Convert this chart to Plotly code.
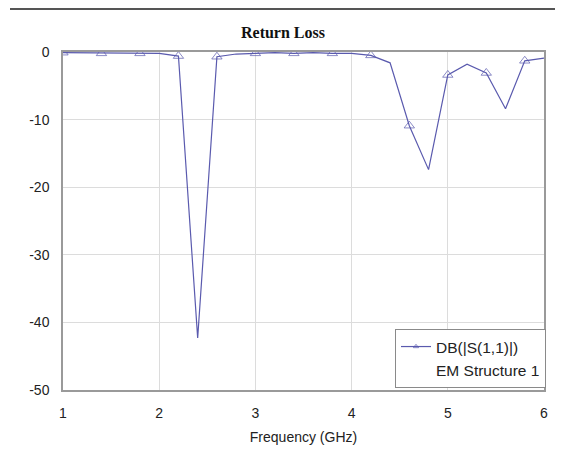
import plotly.graph_objects as go

freq_ghz = [1.0, 1.2, 1.4, 1.6, 1.8, 2.0, 2.2, 2.4, 2.6, 2.8, 3.0, 3.2, 3.4,
            3.6, 3.8, 4.0, 4.2, 4.4, 4.6, 4.8, 5.0, 5.2, 5.4, 5.6, 5.8, 6.0]
s11_db = [-0.1, -0.1, -0.2, -0.1, -0.2, -0.2, -0.6, -42.3, -0.7, -0.3, -0.2, -0.1, -0.2,
          -0.1, -0.2, -0.2, -0.5, -1.6, -10.9, -17.4, -3.4, -1.8, -3.1, -8.4, -1.3, -0.9]
marker_sizes = [9 if i % 2 == 0 else 0 for i in range(len(freq_ghz))]

x_ticks = [1, 2, 3, 4, 5, 6]
x_tick_labels = ["1", "2", "3", "4", "5", "6"]
y_ticks = [0, -10, -20, -30, -40, -50]
y_tick_labels = ["0", "-10", "-20", "-30", "-40", "-50"]

line_color = "#5a5aae"
font_family = "Liberation Sans, Arial"

# The page body has an 8px default margin, so the figure is sized to fit the window.
W, H = 555, 454
ML, MR, MT, MB = 55, 19, 44, 72
plot_w = W - ML - MR
plot_h = H - MT - MB


def px_x(v):
    return (v - 63) / plot_w


def px_y(v):
    return (390 - v) / plot_h


fig = go.Figure()
fig.add_trace(go.Scatter(
    x=freq_ghz, y=s11_db, mode="lines+markers", name="DB(|S(1,1)|)",
    line=dict(color=line_color, width=1.2),
    marker=dict(symbol="triangle-up-open", size=marker_sizes, color=line_color,
                line=dict(width=1, color=line_color)),
))
fig.add_trace(go.Scatter(
    x=[None], y=[None], mode="lines", name="EM Structure 1",
    line=dict(color="rgba(0,0,0,0)", width=0),
))

axis_common = dict(
    showgrid=True, gridcolor="#dcdcdc", gridwidth=1,
    showline=True, linecolor="#9a9a9a", linewidth=1.5, mirror=True,
    ticks="", zeroline=False, automargin=False,
    tickfont=dict(family=font_family, size=14, color="#222"),
)

fig.update_layout(
    width=W, height=H,
    margin=dict(l=ML, r=MR, t=MT, b=MB),
    paper_bgcolor="white", plot_bgcolor="white",
    title=dict(text="<b>Return Loss</b>", x=275 / W, xref="container", xanchor="center",
               y=1 - 24 / H, yref="container", yanchor="middle",
               font=dict(family="Liberation Serif, Times New Roman", size=16, color="#111")),
    xaxis=dict(range=[1, 6], tickvals=x_ticks, ticktext=x_tick_labels, ticklabelstandoff=9,
               title=dict(text="Frequency (GHz)", standoff=13,
                          font=dict(family=font_family, size=14, color="#222")),
               **axis_common),
    yaxis=dict(range=[-50, 0], tickvals=y_ticks, ticktext=y_tick_labels,
               ticklabelstandoff=9, **axis_common),
    legend=dict(x=px_x(395), y=0.006, xanchor="left", yanchor="bottom",
                bgcolor="white", bordercolor="#8a8a8a", borderwidth=1,
                font=dict(family=font_family, size=15.5, color="#222"),
                tracegroupgap=0, itemwidth=30),
    showlegend=True,
    shapes=[
        dict(type="line", xref="paper", yref="paper",
             x0=-(ML - 2) / plot_w, x1=1 + MR / plot_w,
             y0=1 + (MT - 1) / plot_h, y1=1 + (MT - 1) / plot_h,
             line=dict(color="#555", width=2)),
    ],
)

fig.write_html("out.html")
